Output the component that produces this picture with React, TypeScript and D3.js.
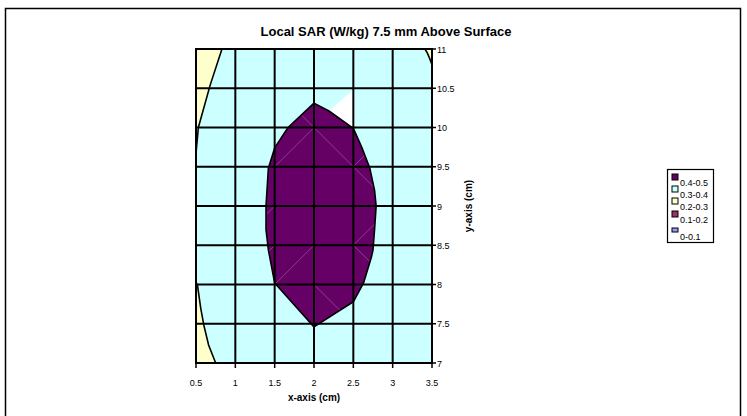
import React from "react";
import * as d3 from "d3";

const xTicks = [0.5, 1, 1.5, 2, 2.5, 3, 3.5];
const yTicks = [7, 7.5, 8, 8.5, 9, 9.5, 10, 10.5, 11];
const legendLabels = ["0.4-0.5", "0.3-0.4", "0.2-0.3", "0.1-0.2", "0-0.1"];
const legendColors = ["#660066", "#CCFFFF", "#FFFFCC", "#993366", "#9999FF"];

// contour band boundaries (x cm, y cm)
const band04: [number, number][] = [
  [2.0, 10.31], [2.19, 10.21], [2.5, 9.99], [2.61, 9.74], [2.71, 9.48], [2.77, 9.2],
  [2.79, 9.0], [2.77, 8.7], [2.75, 8.44], [2.73, 8.35], [2.63, 8.02], [2.5, 7.78],
  [2.0, 7.46], [1.5, 8.02], [1.42, 8.44], [1.39, 8.7], [1.39, 9.0], [1.42, 9.48],
  [1.5, 9.74], [1.67, 10.0],
];
const band02TopLeft: [number, number][] = [
  [0.5, 11], [0.83, 11], [0.68, 10.54], [0.53, 10.0], [0.5, 9.67],
];
const band02BottomLeft: [number, number][] = [
  [0.5, 8.03], [0.52, 7.98], [0.56, 7.7], [0.6, 7.48], [0.66, 7.23], [0.75, 7.0], [0.5, 7.0],
];
const band02TopRight: [number, number][] = [
  [3.41, 11], [3.5, 11], [3.5, 10.8], [3.47, 10.88], [3.44, 10.95],
];
const unfilledGap: [number, number][] = [
  [2.19, 10.21], [2.5, 10.48], [2.5, 9.99],
];
// faint triangulation diagonals of the surface cells
const cellDiagonals: [number, number, number, number][] = [
  [1.5, 10.5, 2, 10], [2, 10, 2.5, 9.5], [1.5, 9.5, 2, 10], [2.5, 9.5, 3, 10],
  [2.5, 9.5, 3, 9], [1, 8.5, 1.5, 9], [2.5, 8.5, 3, 9], [1.5, 8, 2, 8.5],
  [2, 8, 2.5, 7.5], [2.5, 8.5, 3, 8], [1, 8, 1.5, 8.5],
];

const W = 747, H = 416;
const PL = 196, PT = 49, PW = 236, PH = 314;

export default function App() {
  const x = d3.scaleLinear().domain([0.5, 3.5]).range([PL, PL + PW]);
  const y = d3.scaleLinear().domain([7, 11]).range([PT + PH, PT]);
  const line = d3.line<[number, number]>().x(d => x(d[0])).y(d => y(d[1]));
  const closed = (pts: [number, number][]) => line(pts) + "Z";
  const font = "'Liberation Sans', Arial, sans-serif";

  return (
    <svg width={W} height={H} style={{ position: "absolute", left: 0, top: 0, background: "#fff" }} fontFamily={font}>
      <defs>
        <clipPath id="purpleClip"><path d={closed(band04)} /></clipPath>
      </defs>
      <rect x={5.5} y={8.5} width={735} height={420} fill="#fff" stroke="#000" strokeWidth={1.5} />
      <text x={386} y={35.5} textAnchor="middle" fontSize={13} fontWeight="bold">Local SAR (W/kg) 7.5 mm Above Surface</text>

      <rect x={PL} y={PT} width={PW} height={PH} fill={legendColors[1]} />
      <path d={closed(band02TopLeft)} fill={legendColors[2]} />
      <path d={closed(band02BottomLeft)} fill={legendColors[2]} />
      <path d={closed(band02TopRight)} fill={legendColors[2]} />
      <path d={closed(unfilledGap)} fill="#fff" />
      <path d={closed(band04)} fill={legendColors[0]} />
      <g clipPath="url(#purpleClip)">
        {cellDiagonals.map((s, i) => (
          <line key={i} x1={x(s[0])} y1={y(s[1])} x2={x(s[2])} y2={y(s[3])} stroke="#b080c0" strokeWidth={0.7} opacity={0.7} />
        ))}
      </g>
      <path d={closed(band04)} fill="none" stroke="#000" strokeWidth={1.6} strokeLinejoin="round" />
      <path d={line(band02TopLeft.slice(1))!} fill="none" stroke="#000" strokeWidth={1.6} />
      <path d={line(band02BottomLeft.slice(0, -1))!} fill="none" stroke="#000" strokeWidth={1.6} />
      <path d={line(band02TopRight.slice(2).concat([band02TopRight[0]]))!} fill="none" stroke="#000" strokeWidth={1.6} />

      {xTicks.map(t => (
        <line key={"gx" + t} x1={x(t)} x2={x(t)} y1={PT} y2={PT + PH} stroke="#000" strokeWidth={2} />
      ))}
      {yTicks.map(t => (
        <line key={"gy" + t} x1={PL} x2={PL + PW} y1={y(t)} y2={y(t)} stroke="#000" strokeWidth={2} />
      ))}
      <rect x={PL} y={PT} width={PW} height={PH} fill="none" stroke="#000" strokeWidth={2} />

      {xTicks.map(t => (
        <g key={"tx" + t}>
          <line x1={x(t)} x2={x(t)} y1={PT + PH} y2={PT + PH + 5} stroke="#000" strokeWidth={1.5} />
          <text x={x(t)} y={PT + PH + 23} textAnchor="middle" fontSize={9}>{t}</text>
        </g>
      ))}
      {yTicks.map(t => (
        <g key={"ty" + t}>
          <line x1={PL + PW} x2={PL + PW + 4} y1={y(t)} y2={y(t)} stroke="#000" strokeWidth={1.5} />
          <text x={PL + PW + 5} y={y(t) + 3.5} fontSize={9}>{t}</text>
        </g>
      ))}
      <text x={x(2)} y={401} textAnchor="middle" fontSize={10} fontWeight="bold">x-axis (cm)</text>
      <text transform={`translate(472,${y(9)}) rotate(-90)`} textAnchor="middle" fontSize={10} fontWeight="bold">y-axis (cm)</text>

      <rect x={667.5} y={169.5} width={46} height={73} fill="#fff" stroke="#000" strokeWidth={1.2} />
      {legendLabels.map((l, i) => {
        const cy = [182, 194, 206, 219, 236][i];
        return (
          <g key={l}>
            <rect x={672} y={cy - 8} width={6} height={i === 4 ? 4 : 6} fill={legendColors[i]} stroke="#000" strokeWidth={1} />
            <text x={680} y={cy + 3.5} fontSize={9}>{l}</text>
          </g>
        );
      })}
    </svg>
  );
}
